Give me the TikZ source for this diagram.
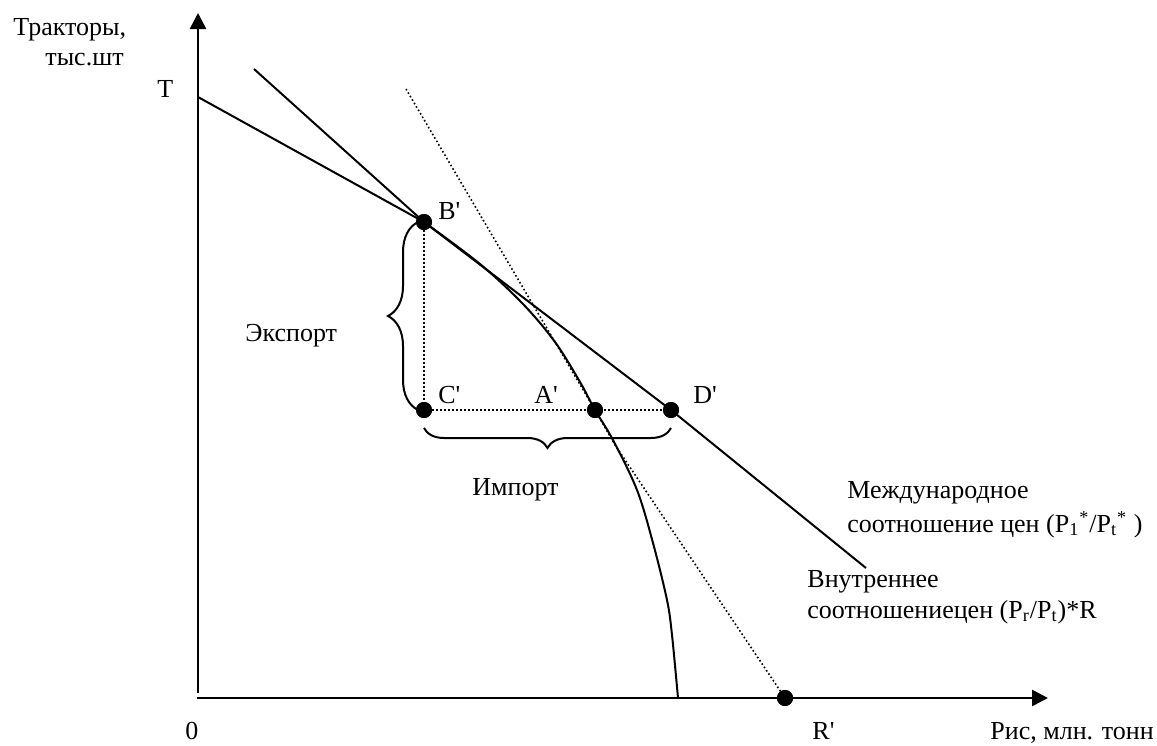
\documentclass[tikz,border=0pt]{standalone}
\usepackage{fontspec}
\setmainfont{Liberation Serif}
\usetikzlibrary{arrows.meta,decorations.pathreplacing}
\newcommand{\apo}{\textquotesingle}
\begin{document}
\begin{tikzpicture}[x=0.5pt,y=-0.5pt,
  every node/.style={font=\fontsize{13pt}{15pt}\selectfont, inner sep=0pt},
  axisline/.style={line width=1.3pt, -{Triangle[length=8pt,width=8pt]}},
  solidline/.style={line width=1pt},
  dotline/.style={line width=0.8pt, dash pattern=on 0.8pt off 1.2pt},
  dot/.style={circle, fill=black, inner sep=0pt, minimum size=8pt},
  bracestyle/.style={line width=1pt, decorate, decoration={brace, amplitude=#1}},
  lbl/.style={anchor=base west}]
\useasboundingbox (0,0) rectangle (1157,745);

% axes
\coordinate (Y0) at (198,693);
\coordinate (Ytip) at (198,13);
\coordinate (X0) at (197,698);
\coordinate (Xtip) at (1048,698);
\draw[axisline] (Y0) -- (Ytip);
\draw[axisline] (X0) -- (Xtip);

% points
\coordinate (T) at (198,97);
\node[dot] (B) at (424,222) {};
\node[dot] (C) at (424,410) {};
\node[dot] (A) at (595,410) {};
\node[dot] (D) at (671,410) {};
\node[dot] (R) at (785,698) {};

% international price line
\coordinate (I1) at (254,69);
\coordinate (I2) at (866,568);
\draw[solidline] (I1) -- (B.center) -- (D.center) -- (I2);

% domestic price line
\coordinate (M1) at (406,89);
\coordinate (M2) at (615,445);
\draw[dotline] (M1) -- (A.center) -- (M2) -- (R.center);

% production possibility frontier
\draw[solidline] (T) -- (B.center);
\draw[solidline] plot[smooth, tension=0.55] coordinates {(424,222) (480,264) (523,304) (555,342) (580,382) (595,410) (613,440) (637,490) (653,543) (667,600) (672,635) (678,698)};

% dotted helpers
\draw[dotline] (B.center) -- (C.center) -- (D.center);

% braces
\draw[bracestyle=15pt] (418,410) -- (418,222);
\draw[bracestyle=10pt] (671,428) -- (424,428);

% redraw dots on top
\foreach \p in {B,C,A,D,R} \fill (\p) circle[radius=4pt];

% labels
\node[lbl] (lT) at (157,97) {T};
\node[lbl] (lY1) at (13,35) {Тракторы,};
\node[lbl] (lY2) at (45,65) {тыс.шт};
\node[lbl] (lB) at (438,219) {B\apo};
\node[lbl] (lC) at (438,403) {C\apo};
\node[lbl] (lA) at (534,403) {A\apo};
\node[lbl] (lD) at (693,403) {D\apo};
\node[lbl] (lExp) at (245,341) {Экспорт};
\node[lbl] (lImp) at (472,495) {Импорт};
\node[lbl] (lI1) at (847,498) {Международное};
\node[lbl] (lI2) at (847,532) {соотношение цен (P\textsubscript{1}\textsuperscript{*}/P\textsubscript{t}\textsuperscript{*} )};
\node[lbl] (lV1) at (807,587) {Внутреннее};
\node[lbl] (lV2) at (807,618) {соотношениецен (P\textsubscript{r}/P\textsubscript{t})*R};
\node[lbl] (l0) at (185,739) {0};
\node[lbl] (lR) at (812,739) {R\apo};
\node[lbl] (lX) at (990,739) {Рис, млн. тонн};
\end{tikzpicture}
\end{document}
